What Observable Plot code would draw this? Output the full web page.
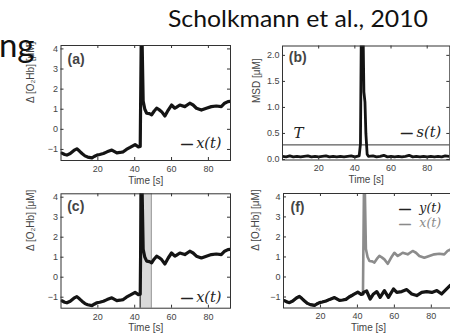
<!DOCTYPE html>
<html><head><meta charset="utf-8">
<script src="https://cdn.jsdelivr.net/npm/d3@7"></script>
<script src="https://cdn.jsdelivr.net/npm/@observablehq/plot@0.6"></script>
<style>
html,body{margin:0;padding:0;background:#fff;}
#wrap{position:relative;width:450px;height:333px;overflow:hidden;background:#fff;}
</style></head><body>
<div id="wrap"></div>
<script>
// ---- data ----
// x(t): measured signal with motion artifact
const timeX = [0.5, 2, 3.2, 5, 7, 8.6, 10, 11.4, 13, 14.5, 16.8, 18, 19.5, 21, 23, 25, 27.6, 30.3, 32, 33.8, 35.5, 37.5, 39, 40.2, 42, 43.0,
  43.7, 44.6, 45.5, 46.5, 48, 49.2, 50.5, 51.9, 53.2, 54.6, 56.4, 58.2, 60, 61.8, 63, 64.5, 67.2, 69.9, 71.7, 73.5, 76.2, 78.9, 81.6, 84.3, 87, 88.8, 90.6, 92];
const valX = [-1.18, -1.25, -1.28, -1.2, -1.05, -0.97, -1.08, -1.2, -1.32, -1.38, -1.42, -1.35, -1.28, -1.25, -1.2, -1.12, -1.03, -1.17, -1.15, -1.12, -1.0, -0.9, -0.82, -0.76, -0.87, -0.85,
  6.0, 1.4, 1.0, 0.8, 0.78, 0.72, 0.9, 1.05, 0.98, 0.88, 0.66, 0.96, 1.21, 1.05, 1.12, 1.21, 1.13, 1.3, 1.21, 1.05, 0.96, 1.05, 1.13, 1.16, 1.13, 1.3, 1.38, 1.4];
// y(t): corrected signal
const timeY = [0.5, 2, 3.2, 5, 7, 8.6, 10, 11.4, 13, 14.5, 16.8, 18, 19.5, 21, 23, 25, 27.6, 30.3, 32, 33.8, 35.5, 37.5, 39, 40.2, 42, 43.0,
  43.2, 45, 46.9, 48.7, 50.5, 52.3, 54.6, 56.8, 59.5, 61.3, 64, 66.7, 69.4, 72.1, 74.8, 77.5, 80.3, 83, 85.6, 88.3, 90.1, 92];
const valY = [-1.18, -1.25, -1.28, -1.2, -1.05, -0.97, -1.08, -1.2, -1.32, -1.38, -1.42, -1.35, -1.28, -1.25, -1.2, -1.12, -1.03, -1.17, -1.15, -1.12, -1.0, -0.9, -0.82, -0.76, -0.87, -0.85,
  -0.77, -0.7, -1.1, -0.85, -0.73, -1.02, -0.68, -1.02, -0.6, -0.77, -0.73, -0.63, -0.85, -0.93, -0.77, -0.73, -0.77, -0.68, -0.85, -0.6, -0.43, -0.35];
// s(t): moving standard deviation
const timeS = [0, 2, 4, 6, 8, 10, 12, 14, 16, 18, 20, 22, 24, 26, 28, 30, 32, 34, 36, 38, 40, 42.4, 43.1, 43.6, 44.5, 45.0, 45.6, 46.1, 46.8, 47.5,
  50, 52, 54, 56, 58, 60, 62, 64, 66, 68, 70, 72, 74, 76, 78, 80, 82, 84, 86, 88, 90, 92];
const valS = [0.06, 0.05, 0.07, 0.05, 0.06, 0.05, 0.06, 0.07, 0.05, 0.06, 0.05, 0.06, 0.07, 0.05, 0.06, 0.05, 0.06, 0.05, 0.06, 0.07, 0.05, 0.07, 0.3, 2.6, 2.6, 1.3, 1.1, 0.5, 0.1, 0.06,
  0.07, 0.05, 0.06, 0.08, 0.05, 0.06, 0.05, 0.06, 0.05, 0.06, 0.08, 0.05, 0.06, 0.05, 0.06, 0.05, 0.06, 0.05, 0.06, 0.05, 0.07, 0.06];
const thresholdT = [0.28];
const bandC = [43.0, 49.0];
const xTicks = [20, 40, 60, 80];
const yTicksO2 = [-1, 0, 1, 2, 3, 4];
const yTicksMSD = [0, 0.5, 1, 1.5, 2];
const domainX = [0, 92];
const domainXb = [0, 92.5];
const domainO2 = [-1.55, 4.17];
const domainMSD = [-0.01, 2.18];
const labelX = "Time [s]";
const labelO2 = "Δ [O₂Hb] [μM]";
const labelMSD = "MSD [μM]";

const dataX = timeX.map((t, i) => ({t, v: valX[i]}));
const dataY = timeY.map((t, i) => ({t, v: valY[i]}));
const dataS = timeS.map((t, i) => ({t, v: valS[i]}));

const wrap = document.getElementById("wrap");
const AX = "#444";
const FONT = "Liberation Sans, Arial, sans-serif";
const SERIF = "DejaVu Serif, serif";

function panel(cfg) {
  const {left, top, width, height, box, xDomain, yDomain, yTicks, ylabel, ylabelDx, tag, tagDx, tagDy, marks} = cfg;
  const iw = box.x1 - box.x0, ih = box.y1 - box.y0;
  const chart = Plot.plot({
    width, height,
    marginLeft: box.x0 - left, marginRight: left + width - box.x1,
    marginTop: box.y0 - top, marginBottom: top + height - box.y1,
    style: {background: "transparent", fontFamily: FONT, overflow: "visible"},
    x: {domain: xDomain},
    y: {domain: yDomain},
    marks: [
      ...marks,
      Plot.frame({stroke: "#333", strokeWidth: 1}),
      Plot.tickX(xTicks, {x: d => d, insetTop: ih - 3, stroke: "#333"}),
      Plot.tickX(xTicks, {x: d => d, insetBottom: ih - 3, stroke: "#333"}),
      Plot.tickY(yTicks, {y: d => d, insetRight: iw - 3, stroke: "#333"}),
      Plot.tickY(yTicks, {y: d => d, insetLeft: iw - 3, stroke: "#333"}),
      Plot.axisX(xTicks, {tickSize: 0, tickPadding: 5, fontSize: 9, fill: AX, label: null}),
      Plot.axisY(yTicks, {tickSize: 0, tickPadding: 3, fontSize: 9, fill: AX, label: null}),
      Plot.text([labelX], {frameAnchor: "bottom", dy: 20, lineAnchor: "middle", fontSize: 10, fill: AX}),
      Plot.text([ylabel], {frameAnchor: "left", rotate: -90, dx: ylabelDx, lineAnchor: "middle", fontSize: 10, fill: AX}),
      Plot.text([tag], {frameAnchor: "top-left", dx: tagDx, dy: tagDy, textAnchor: "start", lineAnchor: "middle", fontSize: 14, fontWeight: "bold", fill: "#444"})
    ]
  });
  chart.style.position = "absolute";
  chart.style.left = left + "px";
  chart.style.top = top + "px";
  wrap.appendChild(chart);
}

function legendEntry(text, anchor, dashDx, textDx, dy, color, size) {
  return [
    Plot.text(["—"], {frameAnchor: anchor, dx: dashDx, dy, textAnchor: "end", lineAnchor: "middle", fontSize: 11, fill: color, stroke: color, strokeWidth: 0.9, fontFamily: FONT}),
    Plot.text([text], {frameAnchor: anchor, dx: textDx, dy, textAnchor: "end", lineAnchor: "middle", fontSize: size, fontStyle: "italic", fontFamily: SERIF, fill: color})
  ];
}

// (a)
panel({left: 0, top: 30, width: 245, height: 160,
  box: {x0: 60.5, x1: 230, y0: 45, y1: 160},
  xDomain: domainX, yDomain: domainO2, yTicks: yTicksO2,
  ylabel: labelO2, ylabelDx: -30.5, tag: "(a)", tagDx: 6.5, tagDy: 14.5,
  marks: [
    Plot.line(dataX, {x: "t", y: "v", stroke: "#141414", strokeWidth: 3.2, clip: true}),
    ...legendEntry("x(t)", "bottom-right", -38, -9, -17, "#222", 14.5)
  ]});

// (b)
panel({left: 245, top: 30, width: 210, height: 160,
  box: {x0: 282, x1: 449.3, y0: 45.5, y1: 159.5},
  xDomain: domainXb, yDomain: domainMSD, yTicks: yTicksMSD,
  ylabel: labelMSD, ylabelDx: -26, tag: "(b)", tagDx: 6.3, tagDy: 12,
  marks: [
    Plot.ruleY(thresholdT, {stroke: "#333", strokeWidth: 1}),
    Plot.line(dataS, {x: "t", y: "v", stroke: "#141414", strokeWidth: 2.8, clip: true}),
    Plot.text(["T"], {frameAnchor: "bottom-left", dx: 11, dy: -27, textAnchor: "start", lineAnchor: "middle", fontSize: 15, fontStyle: "italic", fontFamily: SERIF, fill: "#222"}),
    ...legendEntry("s(t)", "bottom-right", -37.6, -8.6, -27.8, "#222", 14.5)
  ]});

// (c)
panel({left: 0, top: 190, width: 245, height: 143,
  box: {x0: 60.5, x1: 230, y0: 193.3, y1: 307.7},
  xDomain: domainX, yDomain: domainO2, yTicks: yTicksO2,
  ylabel: labelO2, ylabelDx: -30.5, tag: "(c)", tagDx: 6.2, tagDy: 12.5,
  marks: [
    Plot.rect([bandC], {x1: d => d[0], x2: d => d[1], fill: "#d9d9d9"}),
    Plot.ruleX([bandC[0]], {stroke: "#555", strokeWidth: 1.6}),
    Plot.ruleX([bandC[1]], {stroke: "#8a8a8a", strokeWidth: 1}),
    Plot.line(dataX, {x: "t", y: "v", stroke: "#141414", strokeWidth: 3.2, clip: true}),
    ...legendEntry("x(t)", "bottom-right", -38, -9, -11, "#222", 14.5)
  ]});

// (f)
panel({left: 245, top: 190, width: 210, height: 143,
  box: {x0: 283, x1: 453, y0: 193, y1: 307.5},
  xDomain: domainX, yDomain: domainO2, yTicks: yTicksO2,
  ylabel: labelO2, ylabelDx: -28, tag: "(f)", tagDx: 7, tagDy: 13.7,
  marks: [
    Plot.line(dataX, {x: "t", y: "v", stroke: "#8c8c8c", strokeWidth: 2.6, clip: true}),
    Plot.line(dataY, {x: "t", y: "v", stroke: "#141414", strokeWidth: 3.2, clip: true}),
    ...legendEntry("y(t)", "top-right", -43, -12.3, 14.5, "#222", 12.5),
    ...legendEntry("x(t)", "top-right", -43, -12.3, 29.5, "#8a8a8a", 12.5)
  ]});

// overlay texts (slide title and cut-off slide word)
const ns = "http://www.w3.org/2000/svg";
const ov = document.createElementNS(ns, "svg");
ov.setAttribute("width", 450); ov.setAttribute("height", 333);
ov.style.position = "absolute"; ov.style.left = "0px"; ov.style.top = "0px"; ov.style.pointerEvents = "none";
function addText(str, attrs) {
  const el = document.createElementNS(ns, "text");
  for (const k in attrs) el.setAttribute(k, attrs[k]);
  el.textContent = str;
  ov.appendChild(el);
}
addText("Scholkmann et al., 2010", {x: 168, y: 27, "font-family": "Lato, sans-serif", "font-size": 23, fill: "#111", textLength: 260, lengthAdjust: "spacingAndGlyphs"});
addText("ng", {x: 34.5, y: 57, "text-anchor": "end", "font-family": "Lato, sans-serif", "font-size": 33, fill: "#111"});
wrap.appendChild(ov);
</script>
</body></html>
